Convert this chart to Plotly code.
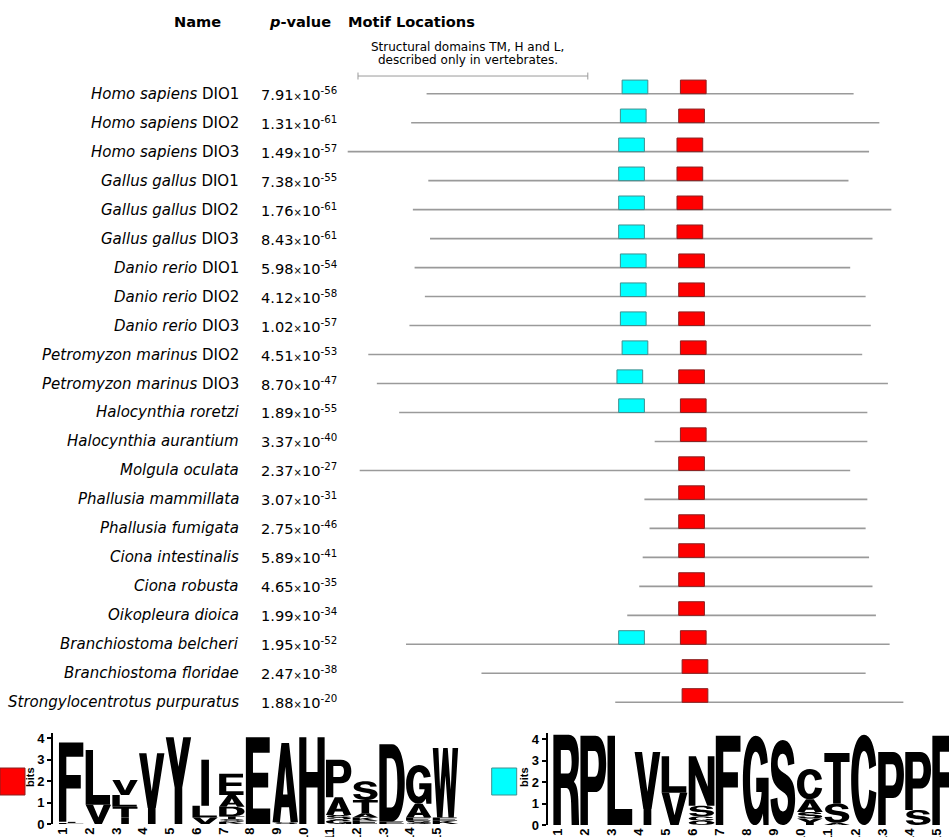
import re
import plotly.graph_objects as go

W, H = 949, 837

# ---------------- data ----------------
species = ["Homo sapiens", "Homo sapiens", "Homo sapiens", "Gallus gallus", "Gallus gallus",
           "Gallus gallus", "Danio rerio", "Danio rerio", "Danio rerio", "Petromyzon marinus",
           "Petromyzon marinus", "Halocynthia roretzi", "Halocynthia aurantium", "Molgula oculata",
           "Phallusia mammillata", "Phallusia fumigata", "Ciona intestinalis", "Ciona robusta",
           "Oikopleura dioica", "Branchiostoma belcheri", "Branchiostoma floridae",
           "Strongylocentrotus purpuratus"]
gene = ["DIO1", "DIO2", "DIO3", "DIO1", "DIO2", "DIO3", "DIO1", "DIO2", "DIO3", "DIO2", "DIO3",
        "", "", "", "", "", "", "", "", "", "", ""]
p_mantissa = [7.91, 1.31, 1.49, 7.38, 1.76, 8.43, 5.98, 4.12, 1.02, 4.51, 8.70, 1.89, 3.37,
              2.37, 3.07, 2.75, 5.89, 4.65, 1.99, 1.95, 2.47, 1.88]
p_exponent = [-56, -61, -57, -55, -61, -61, -54, -58, -57, -53, -47, -55, -40, -27, -31, -46,
              -41, -35, -34, -52, -38, -20]
# alignment offset of each sequence (residues) and sequence length
seq_offset = [46, 37, 0, 47, 38, 48, 39, 45, 36, 12, 17, 30, 179, 7, 173, 176, 172, 170, 163,
              34, 78, 156]
seq_length = [249, 273, 304, 245, 279, 258, 254, 257, 269, 288, 298, 273, 124, 286, 130, 126,
              132, 136, 145, 282, 224, 168]
# motif site starts (residue within sequence); None = not found
cyan_site = [114, 122, 158, 111, 120, 110, 120, 114, 123, 148, 140, 128, None, None, None, None,
             None, None, None, 124, None, None]
red_site = [148, 156, 192, 145, 154, 144, 154, 148, 157, 182, 176, 164, 15, 186, 20, 17, 21, 23,
            30, 160, 117, 39]
motif_width = 15
domain_bar = [6, 140]  # TM, H and L structural domains span (residues)

logo_positions = list(range(1, 16))
bits_ticks = [0, 1, 2, 3, 4]
# sequence logo columns, letters stacked bottom -> top, heights in bits
red_logo_letters = [["L", "I", "F"], ["I", "V", "L"], ["I", "T", "L", "V"], ["I", "V"], ["Y"],
                    ["V", "L", "I"], ["K", "S", "T", "D", "A", "E"], ["E"], ["S", "A"], ["H"],
                    ["G", "S", "A", "P"], ["E", "K", "A", "T", "S"], ["E", "D"],
                    ["S", "E", "A", "G"], ["K", "E", "W"]]
red_logo_bits = [[0.05, 0.05, 3.7], [0.05, 0.85, 2.55], [0.3, 0.5, 0.55, 0.7], [0.75, 2.55],
                 [4.05], [0.3, 0.55, 2.15], [0.1, 0.12, 0.14, 0.44, 0.55, 1.0], [4.05],
                 [0.08, 3.7], [4.05], [0.2, 0.22, 0.83, 1.75], [0.15, 0.15, 0.2, 0.62, 0.88],
                 [0.12, 3.6], [0.15, 0.15, 0.65, 1.8], [0.15, 0.15, 3.25]]
cyan_logo_letters = [["R"], ["P"], ["L"], ["I", "V"], ["V", "L"], ["Q", "C", "S", "N"], ["F"],
                     ["G"], ["S"], ["Y", "S", "A", "C"], ["A", "S", "T"], ["C"], ["P"],
                     ["S", "P"], ["F"]]
cyan_logo_bits = [[4.2], [4.15], [4.15], [0.75, 2.65], [1.5, 1.7], [0.2, 0.2, 0.5, 2.3], [4.15],
                  [4.15], [3.95], [0.3, 0.3, 0.6, 1.4], [0.1, 0.9, 2.35], [4.2], [3.4],
                  [0.7, 2.7], [4.15]]

# ---------------- glyph outlines (unit box) ----------------
GLYPHS = {
    "A": "M0,0 L0.29,0 L0.35,0.19 L0.65,0.19 L0.71,0 L1,0 L0.65,1 L0.35,1 Z M0.41,0.35 L0.59,0.35 L0.5,0.7 Z",
    "C": "M0.98,0.36 C0.93,0.12 0.75,0 0.5,0 C0.18,0 0,0.22 0,0.5 C0,0.78 0.18,1 0.5,1 C0.75,1 0.93,0.88 0.97,0.66 L0.7,0.62 C0.68,0.76 0.6,0.82 0.5,0.82 C0.35,0.82 0.28,0.68 0.28,0.5 C0.28,0.32 0.35,0.18 0.5,0.18 C0.6,0.18 0.68,0.25 0.7,0.39 Z",
    "D": "M0,0 L0.5,0 C0.84,0 1,0.22 1,0.5 C1,0.78 0.84,1 0.5,1 L0,1 Z M0.29,0.18 L0.47,0.18 C0.64,0.18 0.71,0.3 0.71,0.5 C0.71,0.7 0.64,0.82 0.47,0.82 L0.29,0.82 Z",
    "E": "M0,0 L0.96,0 L0.96,0.18 L0.28,0.18 L0.28,0.42 L0.88,0.42 L0.88,0.59 L0.28,0.59 L0.28,0.82 L0.94,0.82 L0.94,1 L0,1 Z",
    "F": "M0,0 L0.29,0 L0.29,0.42 L0.86,0.42 L0.86,0.59 L0.29,0.59 L0.29,0.82 L0.96,0.82 L0.96,1 L0,1 Z",
    "G": "M1,0 L1,0.53 L0.52,0.53 L0.52,0.37 L0.73,0.37 C0.71,0.25 0.62,0.18 0.5,0.18 C0.35,0.18 0.28,0.32 0.28,0.5 C0.28,0.68 0.35,0.82 0.5,0.82 C0.6,0.82 0.67,0.77 0.7,0.67 L0.97,0.7 C0.93,0.9 0.75,1 0.5,1 C0.18,1 0,0.78 0,0.5 C0,0.22 0.18,0 0.47,0 C0.61,0 0.72,0.05 0.78,0.13 L0.8,0 Z",
    "H": "M0,0 L0.28,0 L0.28,0.42 L0.72,0.42 L0.72,0 L1,0 L1,1 L0.72,1 L0.72,0.6 L0.28,0.6 L0.28,1 L0,1 Z",
    "I": "M0.35,0 L0.65,0 L0.65,1 L0.35,1 Z",
    "K": "M0,0 L0.28,0 L0.28,0.32 L0.4,0.44 L0.7,0 L1,0 L0.58,0.62 L0.97,1 L0.64,1 L0.28,0.62 L0.28,1 L0,1 Z",
    "L": "M0,0 L0.96,0 L0.96,0.18 L0.29,0.18 L0.29,1 L0,1 Z",
    "N": "M0,0 L0.26,0 L0.26,0.62 L0.72,0 L1,0 L1,1 L0.74,1 L0.74,0.38 L0.28,1 L0,1 Z",
    "P": "M0,0 L0.29,0 L0.29,0.37 L0.58,0.37 C0.88,0.37 1,0.52 1,0.69 C1,0.86 0.88,1 0.58,1 L0,1 Z M0.29,0.54 L0.55,0.54 C0.67,0.54 0.71,0.61 0.71,0.69 C0.71,0.77 0.67,0.83 0.55,0.83 L0.29,0.83 Z",
    "Q": "M0.5,0 C0.82,0 1,0.22 1,0.5 C1,0.78 0.82,1 0.5,1 C0.18,1 0,0.78 0,0.5 C0,0.22 0.18,0 0.5,0 Z M0.5,0.18 C0.35,0.18 0.28,0.32 0.28,0.5 C0.28,0.68 0.35,0.82 0.5,0.82 C0.65,0.82 0.72,0.68 0.72,0.5 C0.72,0.32 0.65,0.18 0.5,0.18 Z",
    "R": "M0,0 L0.29,0 L0.29,0.41 L0.5,0.41 C0.62,0.41 0.68,0.35 0.69,0.24 L0.71,0 L1,0 L0.97,0.28 C0.96,0.39 0.9,0.45 0.8,0.48 C0.93,0.53 0.99,0.62 0.99,0.74 C0.99,0.9 0.87,1 0.6,1 L0,1 Z M0.29,0.57 L0.57,0.57 C0.67,0.57 0.71,0.62 0.71,0.7 C0.71,0.78 0.67,0.83 0.57,0.83 L0.29,0.83 Z",
    "S": "M0.02,0.3 C0.05,0.1 0.24,0 0.5,0 C0.8,0 0.98,0.13 0.98,0.31 C0.98,0.5 0.82,0.56 0.56,0.61 C0.36,0.65 0.3,0.67 0.3,0.73 C0.3,0.8 0.38,0.84 0.5,0.84 C0.62,0.84 0.69,0.79 0.7,0.7 L0.95,0.72 C0.93,0.9 0.76,1 0.5,1 C0.22,1 0.04,0.88 0.04,0.7 C0.04,0.52 0.2,0.45 0.45,0.4 C0.65,0.36 0.7,0.34 0.7,0.28 C0.7,0.2 0.62,0.16 0.5,0.16 C0.37,0.16 0.3,0.22 0.29,0.32 Z",
    "T": "M0.35,0 L0.65,0 L0.65,0.82 L0.99,0.82 L0.99,1 L0.01,1 L0.01,0.82 L0.35,0.82 Z",
    "V": "M0.34,0 L0.66,0 L1,1 L0.71,1 L0.5,0.3 L0.29,1 L0,1 Z",
    "W": "M0.17,0 L0.38,0 L0.5,0.6 L0.62,0 L0.83,0 L1,1 L0.78,1 L0.71,0.4 L0.59,1 L0.41,1 L0.29,0.4 L0.22,1 L0,1 Z",
    "Y": "M0.35,0 L0.65,0 L0.65,0.42 L1,1 L0.69,1 L0.5,0.66 L0.31,1 L0,1 L0.35,0.42 Z",
}
NUM_PAIR = re.compile(r"(-?\d*\.?\d+),(-?\d*\.?\d+)")


def glyph_path(letter, xc, y0, y1, half=0.475):
    x0, w, h = xc - half, 2 * half, y1 - y0

    def rep(m):
        return f"{x0 + float(m.group(1)) * w:.4f},{y0 + float(m.group(2)) * h:.4f}"

    return NUM_PAIR.sub(rep, GLYPHS[letter])


fig = go.Figure()
shapes = []
annotations = []

# ---------------- block diagram ----------------
LINE_COL = "#9a9a9a"
BOX_H = 0.47
name_font = dict(family="DejaVu Sans", size=15, color="#000")
p_font = dict(family="DejaVu Sans", size=14.6, color="#000")
for i in range(len(species)):
    start = seq_offset[i]
    shapes.append(dict(type="line", xref="x", yref="y", x0=start, x1=start + seq_length[i],
                       y0=i, y1=i, line=dict(color=LINE_COL, width=1.6)))
    if cyan_site[i] is not None:
        s = start + cyan_site[i]
        shapes.append(dict(type="rect", xref="x", yref="y", x0=s, x1=s + motif_width,
                           y0=i - BOX_H, y1=i, fillcolor="#00ffff",
                           line=dict(color="#3f8f8f", width=1)))
    s = start + red_site[i]
    shapes.append(dict(type="rect", xref="x", yref="y", x0=s, x1=s + motif_width,
                       y0=i - BOX_H, y1=i, fillcolor="#ff0000",
                       line=dict(color="#8a2020", width=1)))
    label = f"<i>{species[i]}</i>" + (f" {gene[i]}" if gene[i] else "")
    annotations.append(dict(xref="paper", yref="y", x=241 / W, y=i, text=label,
                            xanchor="right", yanchor="middle", showarrow=False, font=name_font))
    ptxt = f"{p_mantissa[i]:.2f}<span style='font-size:10px'>×</span>10<sup>{p_exponent[i]}</sup>"
    annotations.append(dict(xref="paper", yref="y", x=259 / W, y=i, text=ptxt,
                            xanchor="left", yanchor="middle", showarrow=False, font=p_font))

# structural-domain scale bar
bar_y = -0.61
shapes.append(dict(type="line", xref="x", yref="y", x0=domain_bar[0], x1=domain_bar[1],
                   y0=bar_y, y1=bar_y, line=dict(color=LINE_COL, width=1)))
for xb in domain_bar:
    shapes.append(dict(type="line", xref="x", yref="y", x0=xb, x1=xb, y0=bar_y - 0.12,
                       y1=bar_y + 0.12, line=dict(color=LINE_COL, width=1)))
bar_mid = (domain_bar[0] + domain_bar[1]) / 2 - 3
annotations.append(dict(xref="x", yref="y", x=bar_mid, y=-1.62,
                        text="Structural domains TM, H and L,", showarrow=False,
                        xanchor="center", yanchor="middle",
                        font=dict(family="DejaVu Sans", size=12, color="#000")))
annotations.append(dict(xref="x", yref="y", x=bar_mid, y=-1.17,
                        text="described only in vertebrates.", showarrow=False,
                        xanchor="center", yanchor="middle",
                        font=dict(family="DejaVu Sans", size=12, color="#000")))

# headers
hdr_font = dict(family="DejaVu Sans", size=14.6, color="#000")
annotations += [
    dict(xref="paper", yref="paper", x=197 / W, y=1 - 21 / H, text="<b>Name</b>",
         xanchor="center", yanchor="middle", showarrow=False, font=hdr_font),
    dict(xref="paper", yref="paper", x=300 / W, y=1 - 21 / H, text="<b><i>p</i>-value</b>",
         xanchor="center", yanchor="middle", showarrow=False, font=hdr_font),
    dict(xref="paper", yref="paper", x=346 / W, y=1 - 21 / H, text="<b>Motif Locations</b>",
         xanchor="left", yanchor="middle", showarrow=False, font=hdr_font),
]

# ---------------- sequence logos ----------------
for letters, bits, xr, yr in [(red_logo_letters, red_logo_bits, "x2", "y2"),
                              (cyan_logo_letters, cyan_logo_bits, "x3", "y3")]:
    for pos, col_letters, col_bits in zip(logo_positions, letters, bits):
        base = 0.0
        for let, hgt in zip(col_letters, col_bits):
            shapes.append(dict(type="path", xref=xr, yref=yr,
                               path=glyph_path(let, pos, base, base + hgt),
                               fillcolor="#000000", fillrule="evenodd",
                               line=dict(width=0)))
            base += hgt

# legend squares for each motif
shapes.append(dict(type="rect", xref="paper", yref="paper", x0=0, x1=25 / W,
                   y0=1 - 795 / H, y1=1 - 768 / H, fillcolor="#ff0000",
                   line=dict(color="#8a2020", width=1)))
shapes.append(dict(type="rect", xref="paper", yref="paper", x0=491.7 / W, x1=516.7 / W,
                   y0=1 - 795 / H, y1=1 - 768 / H, fillcolor="#00ffff",
                   line=dict(color="#3f8f8f", width=1)))
for xb in [30, 524]:
    annotations.append(dict(xref="paper", yref="paper", x=xb / W, y=1 - 777 / H, text="<b>bits</b>",
                            textangle=-90, showarrow=False, xanchor="center", yanchor="middle",
                            font=dict(family="Liberation Sans", size=11, color="#000")))

# invisible trace to make subplots exist
for xa, ya in [("x", "y"), ("x2", "y2"), ("x3", "y3")]:
    fig.add_trace(go.Scatter(x=[None], y=[None], xaxis=xa, yaxis=ya, showlegend=False,
                             hoverinfo="skip"))

PX_PER_RES = 1.715
ORIGIN_PX = 347.7
ROW0_PX, ROW_STEP = 93.7, 28.98

tick_font = dict(family="Liberation Sans", size=13, color="#000", weight="bold")
xtick_font = dict(family="Liberation Sans", size=13, color="#000", weight="bold")

fig.update_layout(
    width=W, height=H, margin=dict(l=0, r=0, t=0, b=0),
    paper_bgcolor="white", plot_bgcolor="rgba(0,0,0,0)", template="none", showlegend=False,
    xaxis=dict(domain=[0, 1], range=[-ORIGIN_PX / PX_PER_RES, (W - ORIGIN_PX) / PX_PER_RES],
               visible=False, fixedrange=True),
    yaxis=dict(domain=[0, 1], range=[(H - ROW0_PX) / ROW_STEP, -ROW0_PX / ROW_STEP],
               visible=False, fixedrange=True),
    xaxis2=dict(domain=[53 / W, 462 / W], range=[(53 - 44.95) / 26.7, (462 - 44.95) / 26.7],
                anchor="y2", showline=False, showgrid=False, zeroline=False, ticks="",
                tickvals=[p - 0.32 for p in logo_positions], ticktext=[str(p) for p in logo_positions],
                tickangle=-90, tickfont=xtick_font, automargin=False, fixedrange=True),
    yaxis2=dict(domain=[(H - 824) / H, (H - 733) / H], range=[0, (824 - 733) / 21.43],
                anchor="x2", showline=True, linecolor="#000", linewidth=2, showgrid=False,
                zeroline=False, ticks="outside", ticklen=4, tickwidth=2, tickcolor="#000",
                tickvals=bits_ticks, tickfont=tick_font, automargin=False, fixedrange=True),
    xaxis3=dict(domain=[547.7 / W, 1], range=[(547.7 - 539.17) / 27.07, (W - 539.17) / 27.07],
                anchor="y3", showline=False, showgrid=False, zeroline=False, ticks="",
                tickvals=[p - 0.32 for p in logo_positions], ticktext=[str(p) for p in logo_positions],
                tickangle=-90, tickfont=xtick_font, automargin=False, fixedrange=True),
    yaxis3=dict(domain=[(H - 825) / H, (H - 733) / H], range=[0, (825 - 733) / 21.5],
                anchor="x3", showline=True, linecolor="#000", linewidth=2, showgrid=False,
                zeroline=False, ticks="outside", ticklen=4, tickwidth=2, tickcolor="#000",
                tickvals=bits_ticks, tickfont=tick_font, automargin=False, fixedrange=True),
    shapes=shapes, annotations=annotations,
)

fig.write_html("out.html", config={"displayModeBar": False, "staticPlot": True},
               post_script="document.body.style.margin='0px';document.body.style.overflow='hidden';")
